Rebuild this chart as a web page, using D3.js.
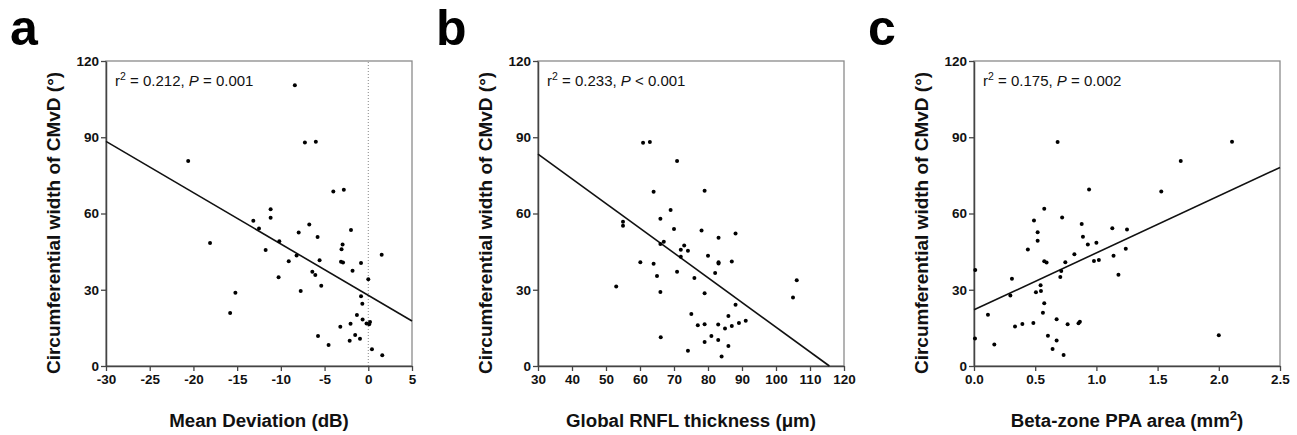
<!DOCTYPE html>
<html>
<head>
<meta charset="utf-8">
<script src="https://cdn.jsdelivr.net/npm/d3@7"></script>
<style>
  body { margin: 0; background: #fff; }
  svg { display: block; font-family: Arial, "Liberation Sans", Helvetica, sans-serif; }
</style>
</head>
<body>
<svg id="chart" width="1297" height="435"></svg>
<script>
// ---- data ----
const yTicks = [0, 30, 60, 90, 120];

// a: mean deviation (dB) vs circumferential width (deg)
const mdX = [-8.4, -7.25, -6.0, -20.6, -4.0, -2.8, -18.1, -15.2, -15.8,
  -13.15, -11.17, -11.17, -12.5, -6.75, -1.98, -7.96, -10.18, -5.8, -2.94,
  -3.06, -11.74, -8.2, 1.53, -9.1, -5.57, -3.12, -2.89, -0.83, -1.8, -6.4,
  -6.06, -10.26, 0.0, -5.38, -7.73, -0.83, -0.68, -1.3, -0.65, -2.03, -0.2,
  0.2, 0.1, -3.2, -1.5, -5.75, -0.95, -2.13, -4.54, 0.42, 1.6];
const mdY = [110.5, 87.9, 88.2, 80.7, 68.7, 69.3, 48.4, 28.8, 20.9,
  57.1, 61.7, 58.3, 54.1, 55.7, 53.5, 52.5, 49.1, 50.8, 47.8,
  45.9, 45.6, 43.5, 43.8, 41.2, 41.6, 41.0, 40.7, 40.5, 37.5, 37.1,
  35.8, 34.9, 34.1, 31.6, 29.5, 27.4, 24.5, 20.1, 18.3, 16.6, 16.7,
  17.3, 16.4, 15.4, 12.2, 11.8, 10.7, 9.9, 8.3, 6.6, 4.2];
const mdTicks = [-30, -25, -20, -15, -10, -5, 0, 5];
const mdFit = [[-30, 88.4], [5, 17.7]];

// b: global RNFL thickness (um)
const rnflX = [60.9, 62.9, 70.9, 64.0, 79.0, 69.0, 66.0, 55.0, 55.0, 70.0,
  78.1, 83.1, 88.1, 67.0, 66.0, 73.0, 72.0, 74.1, 80.0, 72.0, 83.1, 83.1,
  87.0, 60.1, 64.0, 70.9, 82.1, 65.0, 76.0, 106.1, 53.0, 66.0, 79.0, 105.0,
  88.1, 75.1, 86.0, 91.1, 89.1, 77.0, 79.0, 83.0, 87.0, 85.0, 66.1, 81.0,
  79.0, 83.0, 86.0, 74.1, 84.0];
const rnflY = [87.8, 88.1, 80.7, 68.6, 69.0, 61.4, 57.9, 56.8, 55.2, 53.9,
  53.3, 50.5, 52.1, 48.9, 48.0, 47.4, 45.7, 45.3, 43.4, 43.0, 40.8, 40.3,
  41.1, 40.8, 40.2, 37.1, 36.6, 35.4, 34.6, 33.7, 31.3, 29.1, 28.6, 27.0,
  24.1, 20.5, 19.7, 17.8, 16.9, 16.0, 16.4, 16.3, 15.7, 14.8, 11.3, 11.8,
  9.4, 10.2, 7.9, 6.0, 3.7];
const rnflTicks = [30, 40, 50, 60, 70, 80, 90, 100, 110, 120];
const rnflFit = [[30, 83.4], [115.7, 0]];

// c: beta-zone PPA area (mm2)
const ppaX = [0.683, 2.108, 1.689, 1.53, 2.0,
  0.94, 0.574, 0.72, 0.49, 0.88, 1.13, 1.25, 0.52, 0.89, 0.52, 1.0, 0.93,
  1.24, 0.44, 0.82, 1.14, 0.574, 0.593, 0.746, 0.98, 1.02, 0.713, 0.705,
  1.18, 0.31, 0.01, 0.544, 0.297, 0.506, 0.547, 0.574, 0.114, 0.563, 0.675,
  0.395, 0.485, 0.335, 0.765, 0.865, 0.854, 0.008, 0.604, 0.166, 0.675,
  0.642, 0.732];
const ppaY = [88.1, 88.2, 80.7, 68.7, 12.1,
  69.4, 61.9, 58.4, 57.2, 55.9, 54.2, 53.7, 52.6, 50.9, 49.3, 48.5, 47.8,
  46.1, 45.8, 44.0, 43.4, 41.2, 40.7, 40.8, 41.3, 41.7, 37.4, 35.0,
  35.9, 34.3, 37.8, 31.8, 27.7, 29.0, 29.5, 24.7, 20.2, 21.0, 18.4,
  16.5, 16.9, 15.5, 16.4, 17.4, 16.8, 10.8, 11.9, 8.5, 10.0,
  6.7, 4.3];
const ppaTicks = [0, 0.5, 1.0, 1.5, 2.0, 2.5];
const ppaFit = [[0, 22.1], [2.5, 78.1]];

const plainFmt = (d) => String(d);   // hyphen minus like the original

const panels = [
  { letter: "a", left: 106, letterX: 10, xs: mdX, ys: mdY, ticks: mdTicks, fmt: plainFmt,
    fit: mdFit, zeroLine: true,
    title: [{ t: "Mean Deviation (dB)" }],
    note: [{ t: "r" }, { t: "2", sup: true }, { t: " = 0.212, " }, { t: "P", it: true }, { t: " = 0.001" }] },
  { letter: "b", left: 538, letterX: 436, xs: rnflX, ys: rnflY, ticks: rnflTicks, fmt: plainFmt,
    fit: rnflFit, zeroLine: false,
    title: [{ t: "Global RNFL thickness (\u03bcm)" }],
    note: [{ t: "r" }, { t: "2", sup: true }, { t: " = 0.233, " }, { t: "P", it: true }, { t: " < 0.001" }] },
  { letter: "c", left: 974, letterX: 868, xs: ppaX, ys: ppaY, ticks: ppaTicks, fmt: d3.format(".1f"),
    fit: ppaFit, zeroLine: false,
    title: [{ t: "Beta-zone PPA area (mm" }, { t: "2", sup: true }, { t: ")" }],
    note: [{ t: "r" }, { t: "2", sup: true }, { t: " = 0.175, " }, { t: "P", it: true }, { t: " = 0.002" }] }
];

const svg = d3.select("#chart");
const plotTop = 61, plotBottom = 366, plotWidth = 306;

function writeParts(text, parts, supSize, lift) {
  let raised = false;
  parts.forEach((p) => {
    const s = text.append("tspan").text(p.t);
    if (p.sup) {
      s.attr("font-size", supSize).attr("dy", -lift);
      raised = true;
    } else if (raised) {
      s.attr("dy", lift);
      raised = false;
    }
    if (p.it) s.attr("font-style", "italic");
  });
}

panels.forEach((p) => {
  const x = d3.scaleLinear().domain([p.ticks[0], p.ticks[p.ticks.length - 1]]).range([p.left, p.left + plotWidth]);
  const y = d3.scaleLinear().domain([0, 120]).range([plotBottom, plotTop]);
  const g = svg.append("g");

  // frame
  g.append("rect")
    .attr("x", p.left).attr("y", plotTop)
    .attr("width", plotWidth).attr("height", plotBottom - plotTop)
    .attr("fill", "none").attr("stroke", "#8a8a8a").attr("stroke-width", 1.3);

  if (p.zeroLine) {
    g.append("line")
      .attr("x1", x(0)).attr("x2", x(0)).attr("y1", y(0)).attr("y2", y(120))
      .attr("stroke", "#888").attr("stroke-width", 1).attr("stroke-dasharray", "1,2");
  }

  const yAxis = g.append("g")
    .attr("transform", `translate(${p.left},0)`)
    .call(d3.axisLeft(y).tickValues(yTicks).tickSize(5).tickSizeOuter(0).tickPadding(2));
  const xAxis = g.append("g")
    .attr("transform", `translate(0,${plotBottom})`)
    .call(d3.axisBottom(x).tickValues(p.ticks).tickFormat(p.fmt).tickSize(5).tickSizeOuter(0).tickPadding(3));

  [yAxis, xAxis].forEach((a) => {
    a.select(".domain").attr("stroke", "#444").attr("stroke-width", 1.5);
    a.selectAll(".tick line").attr("stroke", "#444").attr("stroke-width", 1.3);
    a.selectAll(".tick text")
      .attr("fill", "#111").attr("font-size", 13.5).attr("font-weight", "bold")
      .attr("font-family", "Arial, 'Liberation Sans', sans-serif");
  });

  // regression line
  g.append("path")
    .datum(p.fit)
    .attr("d", d3.line().x((d) => x(d[0])).y((d) => y(d[1])))
    .attr("fill", "none").attr("stroke", "#111").attr("stroke-width", 1.6);

  // points
  g.selectAll("circle.pt")
    .data(p.xs.map((v, i) => [v, p.ys[i]]))
    .join("circle")
    .attr("class", "pt")
    .attr("cx", (d) => x(d[0])).attr("cy", (d) => y(d[1]))
    .attr("r", 2).attr("fill", "#000");

  // annotation
  const note = g.append("text")
    .attr("x", p.left + 9).attr("y", 86)
    .attr("font-size", 15).attr("fill", "#111");
  writeParts(note, p.note, 10.5, 6);

  // axis titles
  const xt = g.append("text")
    .attr("x", p.left + plotWidth / 2).attr("y", 427)
    .attr("text-anchor", "middle").attr("font-size", 18.7).attr("font-weight", "bold").attr("fill", "#111");
  writeParts(xt, p.title, 13, 7);

  g.append("text")
    .attr("transform", `translate(${p.left - 46},${223}) rotate(-90)`)
    .attr("text-anchor", "middle").attr("font-size", 19).attr("font-weight", "bold").attr("fill", "#111")
    .text("Circumferential width of CMvD (\u00b0)");

  // panel letter
  svg.append("text")
    .attr("x", p.letterX).attr("y", 45)
    .attr("font-size", 50).attr("font-weight", "bold").attr("fill", "#000")
    .text(p.letter);
});
</script>
</body>
</html>
